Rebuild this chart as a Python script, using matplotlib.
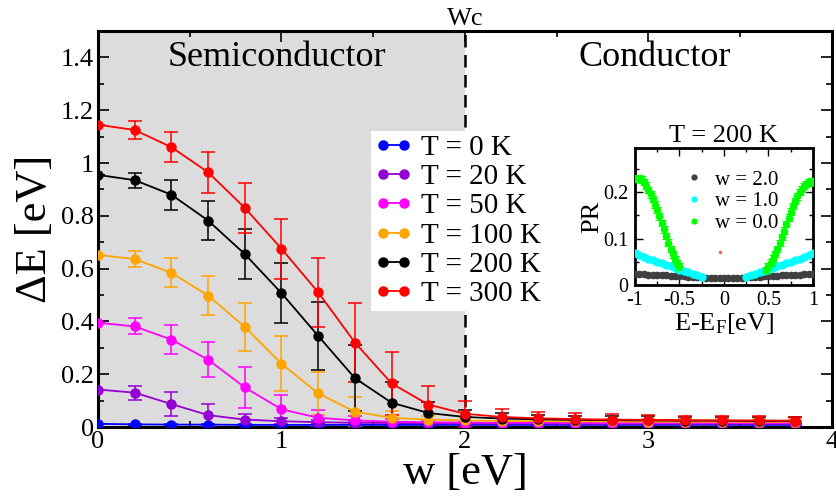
import matplotlib
matplotlib.use("Agg")
import matplotlib.pyplot as plt
from matplotlib.lines import Line2D
from matplotlib.ticker import MultipleLocator

plt.rcParams['font.family'] = ['Liberation Serif', 'DejaVu Serif']
plt.rcParams['mathtext.fontset'] = 'custom'
plt.rcParams['mathtext.rm'] = 'Liberation Serif'
plt.rcParams['mathtext.it'] = 'Liberation Serif:italic'

# ---------------- main data ----------------
w = [0.0, 0.2, 0.4, 0.6, 0.8, 1.0, 1.2, 1.4, 1.6, 1.8,
     2.0, 2.2, 2.4, 2.6, 2.8, 3.0, 3.2, 3.4, 3.6, 3.8]

labels = ["T = 0 K", "T = 20 K", "T = 50 K", "T = 100 K", "T = 200 K", "T = 300 K"]
colors = ["#0000ff", "#9400d3", "#ff00ff", "#ffa500", "#000000", "#ff0000"]

dE_0K = [0.012, 0.010, 0.009, 0.009, 0.008, 0.008, 0.008, 0.008, 0.008, 0.008,
         0.008, 0.008, 0.008, 0.008, 0.008, 0.008, 0.008, 0.008, 0.008, 0.008]
err_0K = [0.0, 0.003, 0.003, 0.003, 0.003, 0.003, 0.003, 0.003, 0.003, 0.003,
          0.003, 0.003, 0.003, 0.003, 0.003, 0.003, 0.003, 0.003, 0.003, 0.003]

dE_20K = [0.142, 0.130, 0.087, 0.045, 0.028, 0.022, 0.018, 0.016, 0.015, 0.014,
          0.013, 0.013, 0.013, 0.012, 0.012, 0.012, 0.012, 0.012, 0.012, 0.012]
err_20K = [0.0, 0.026, 0.046, 0.041, 0.020, 0.012, 0.008, 0.006, 0.005, 0.005,
           0.005, 0.005, 0.005, 0.005, 0.005, 0.005, 0.005, 0.005, 0.005, 0.005]

dE_50K = [0.395, 0.381, 0.331, 0.255, 0.150, 0.067, 0.035, 0.025, 0.020, 0.018,
          0.017, 0.016, 0.016, 0.016, 0.015, 0.015, 0.015, 0.015, 0.015, 0.015]
err_50K = [0.0, 0.030, 0.054, 0.067, 0.078, 0.054, 0.030, 0.015, 0.010, 0.008,
           0.007, 0.006, 0.006, 0.006, 0.006, 0.006, 0.006, 0.006, 0.006, 0.006]

dE_100K = [0.652, 0.636, 0.584, 0.498, 0.379, 0.240, 0.127, 0.058, 0.035, 0.028,
           0.025, 0.023, 0.022, 0.021, 0.021, 0.020, 0.020, 0.020, 0.020, 0.020]
err_100K = [0.0, 0.030, 0.055, 0.075, 0.092, 0.105, 0.080, 0.055, 0.025, 0.015,
            0.012, 0.010, 0.010, 0.010, 0.010, 0.010, 0.010, 0.010, 0.010, 0.010]

dE_200K = [0.955, 0.935, 0.880, 0.782, 0.655, 0.507, 0.345, 0.185, 0.092, 0.053,
           0.038, 0.032, 0.029, 0.027, 0.026, 0.025, 0.024, 0.024, 0.023, 0.023]
err_200K = [0.0, 0.028, 0.057, 0.073, 0.096, 0.113, 0.128, 0.125, 0.080, 0.040,
            0.025, 0.020, 0.018, 0.016, 0.015, 0.015, 0.014, 0.014, 0.014, 0.013]

dE_300K = [1.145, 1.125, 1.060, 0.965, 0.830, 0.675, 0.510, 0.320, 0.165, 0.085,
           0.050, 0.038, 0.033, 0.030, 0.028, 0.027, 0.026, 0.025, 0.025, 0.024]
err_300K = [0.0, 0.035, 0.057, 0.078, 0.095, 0.113, 0.130, 0.150, 0.120, 0.070,
            0.050, 0.032, 0.025, 0.022, 0.020, 0.018, 0.017, 0.016, 0.016, 0.015]

series = [(dE_0K, err_0K), (dE_20K, err_20K), (dE_50K, err_50K),
          (dE_100K, err_100K), (dE_200K, err_200K), (dE_300K, err_300K)]

x_ticks = [0, 1, 2, 3, 4]
x_ticklabels = ["0", "1", "2", "3", "4"]
y_ticks = [0, 0.2, 0.4, 0.6, 0.8, 1.0, 1.2, 1.4]
y_ticklabels = ["0", "0.2", "0.4", "0.6", "0.8", "1", "1.2", "1.4"]

# ---------------- inset data ----------------
E_w2 = [-1.0, -0.95, -0.9, -0.85, -0.8, -0.75, -0.7, -0.65, -0.6, -0.55, -0.5,
        -0.45, -0.4, -0.35, -0.3, -0.25, -0.2, -0.15, -0.1, -0.05, 0.0,
        0.05, 0.1, 0.15, 0.2, 0.25, 0.3, 0.35, 0.4, 0.45, 0.5,
        0.55, 0.6, 0.65, 0.7, 0.75, 0.8, 0.85, 0.9, 0.95, 1.0]
PR_w2 = [0.024, 0.0235, 0.023, 0.0225, 0.022, 0.0215, 0.021, 0.0205, 0.020, 0.0195, 0.019,
         0.0185, 0.018, 0.0175, 0.017, 0.0165, 0.016, 0.0158, 0.0155, 0.0152, 0.015,
         0.0152, 0.0155, 0.0158, 0.016, 0.0165, 0.017, 0.0175, 0.018, 0.0185, 0.019,
         0.0195, 0.020, 0.0205, 0.021, 0.0215, 0.022, 0.0225, 0.023, 0.0235, 0.024]

E_w1 = [-1.0, -0.95, -0.9, -0.85, -0.8, -0.75, -0.7, -0.65, -0.6, -0.55, -0.5,
        -0.45, -0.4, -0.35, -0.3, -0.25,
        0.25, 0.3, 0.35, 0.4, 0.45, 0.5, 0.55, 0.6, 0.65, 0.7, 0.75,
        0.8, 0.85, 0.9, 0.95, 1.0]
PR_w1 = [0.069, 0.065, 0.061, 0.057, 0.054, 0.050, 0.047, 0.044, 0.041, 0.037, 0.033,
         0.030, 0.027, 0.024, 0.021, 0.018,
         0.018, 0.021, 0.024, 0.027, 0.030, 0.033, 0.037, 0.041, 0.044, 0.047, 0.050,
         0.054, 0.057, 0.061, 0.065, 0.069]

E_w0 = [-1.0, -0.975, -0.95, -0.925, -0.9, -0.875, -0.85, -0.825, -0.8, -0.775, -0.75,
        -0.725, -0.7, -0.675, -0.65, -0.625, -0.6, -0.575, -0.55, -0.525, -0.5,
        0.475, 0.5, 0.525, 0.55, 0.575, 0.6, 0.625, 0.65, 0.675, 0.7, 0.725,
        0.75, 0.775, 0.8, 0.825, 0.85, 0.875, 0.9, 0.925, 0.95, 0.975, 1.0]
PR_w0 = [0.228, 0.229, 0.229, 0.227, 0.222, 0.214, 0.205, 0.195, 0.185, 0.173, 0.162,
         0.148, 0.134, 0.120, 0.106, 0.091, 0.077, 0.066, 0.056, 0.047, 0.040,
         0.032, 0.040, 0.048, 0.057, 0.067, 0.078, 0.090, 0.103, 0.117, 0.131, 0.145,
         0.158, 0.170, 0.181, 0.191, 0.200, 0.207, 0.213, 0.218, 0.221, 0.223, 0.224]
err_w0 = 0.007

stray_E = [-0.05]
stray_PR = [0.07]

# ---------------- figure ----------------
fig = plt.figure(figsize=(8.37, 5.0), dpi=100)
ax = fig.add_axes([98/837, 73/500, 734/837, 396/500])

ax.axvspan(0, 2, facecolor="#dcdcdc", edgecolor="none", zorder=0)
ax.axvline(2, color="black", lw=1.8, ls=(0, (5, 3)), zorder=1)

handles = []
for (vals, errs), c, lab in zip(series, colors, labels):
    ax.errorbar(w, vals, yerr=errs, color=c, lw=1.3, marker="o", ms=6.5,
                capsize=5, elinewidth=1.1, capthick=1.1, zorder=3)
    handles.append(Line2D([0], [0], color=c, lw=1.3, marker="o", ms=6.5))

ax.set_xlim(0, 4)
ax.set_ylim(0, 1.5)
ax.set_xticks(x_ticks)
ax.set_xticklabels(x_ticklabels)
ax.set_yticks(y_ticks)
ax.set_yticklabels(y_ticklabels)
ax.xaxis.set_minor_locator(MultipleLocator(0.5))
ax.yaxis.set_minor_locator(MultipleLocator(0.1))
ax.tick_params(which="both", direction="in", top=True, right=True, width=1.2)
ax.tick_params(which="major", length=8, labelsize=19, pad=3)
ax.tick_params(which="minor", length=4)
for s in ax.spines.values():
    s.set_linewidth(2.2)

ax.set_xlabel("w [eV]", fontsize=32, labelpad=0)
ax.set_ylabel("ΔE [eV]", fontsize=32, labelpad=4)

ax.text(0.244, 0.975, "Semiconductor", transform=ax.transAxes, ha="center",
        va="top", fontsize=26)
ax.text(0.759, 0.975, "Conductor", transform=ax.transAxes, ha="center",
        va="top", fontsize=26)
ax.text(2, 1.502, "Wc", ha="center", va="bottom", fontsize=19)

leg = ax.legend(handles, labels, loc="upper left", bbox_to_anchor=(0.372, 0.748),
                fontsize=21, numpoints=2, handlelength=1.3, handletextpad=0.3,
                labelspacing=0.1, borderpad=0.12, borderaxespad=0,
                frameon=True, fancybox=False, framealpha=1)
leg.get_frame().set_edgecolor("none")
leg.get_frame().set_facecolor("white")
leg.set_zorder(5)

# ---------------- inset ----------------
ins = fig.add_axes([635/837, 215/500, 178/837, 137/500])
ins.plot(E_w2, PR_w2, ls="none", marker="o", ms=4.5, color="#404040", zorder=3)
ins.plot(E_w1, PR_w1, ls="none", marker="o", ms=5, color="#00ffff", zorder=3)
ins.errorbar(E_w0, PR_w0, yerr=err_w0, ls="none", marker="o", ms=4.5,
             color="#00ff00", capsize=3, elinewidth=0.8, capthick=0.8, zorder=4)
ins.plot(stray_E, stray_PR, ls="none", marker="o", ms=1.5, color="#ff6060")

ins.set_xlim(-1, 1)
ins.set_ylim(0, 0.295)
ins.set_xticks([-1, -0.5, 0, 0.5, 1])
ins.set_xticklabels(["-1", "-0.5", "0", "0.5", "1"])
ins.set_yticks([0, 0.1, 0.2])
ins.set_yticklabels(["0", "0.1", "0.2"])
ins.xaxis.set_minor_locator(MultipleLocator(0.25))
ins.yaxis.set_minor_locator(MultipleLocator(0.05))
ins.tick_params(which="both", direction="in", top=True, right=True, width=1.0)
ins.tick_params(which="major", length=6, labelsize=14.5)
ins.tick_params(axis="x", which="major", pad=4)
ins.tick_params(axis="y", which="major", pad=5)
ins.tick_params(which="minor", length=3)
for s in ins.spines.values():
    s.set_linewidth(2.0)
ins.set_xlabel("E-E$_\\mathrm{F}$[eV]", fontsize=19, labelpad=1)
ins.set_ylabel("PR", fontsize=19, labelpad=0)
ins.set_title("T = 200 K", fontsize=19, pad=4)

ih = [Line2D([0], [0], ls="none", marker="o", ms=3.5, color="#404040"),
      Line2D([0], [0], ls="none", marker="o", ms=3.5, color="#00ffff"),
      Line2D([0], [0], ls="none", marker="o", ms=3.5, color="#00ff00")]
ins.legend(ih, ["w = 2.0", "w = 1.0", "w = 0.0"], loc="upper left",
           bbox_to_anchor=(0.26, 0.84), fontsize=15, frameon=False,
           handlelength=1.2, handletextpad=0.4, labelspacing=0.1,
           borderpad=0, borderaxespad=0)

fig.savefig("out.png", dpi=100)
